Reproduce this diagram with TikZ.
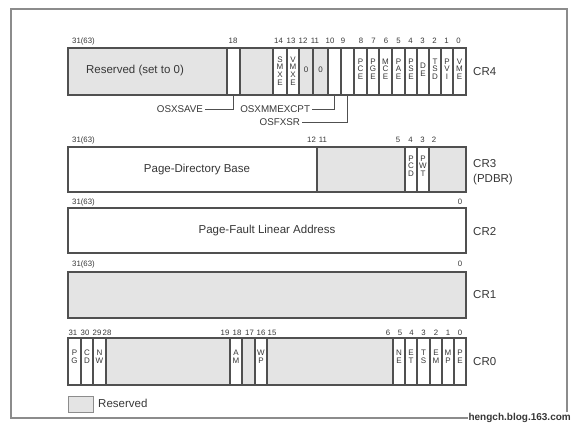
\documentclass[tikz,border=0pt]{standalone}
\usepackage{fontspec}
\setmainfont{Liberation Sans}
\definecolor{resv}{RGB}{228,228,228}
\definecolor{edge}{RGB}{80,80,80}
\definecolor{ink}{RGB}{55,55,55}
\definecolor{framec}{RGB}{140,140,140}
\newcommand{\regcell}[6]{%
  \draw[#6] (#2,#4) rectangle (#3,#5);
  \coordinate (#1) at ({(#2+#3)/2},#5);}
\begin{document}
\begin{tikzpicture}[x=1pt,y=-1pt,
  gcell/.style={draw=edge,line width=1.1pt,fill=resv},
  wcell/.style={draw=edge,line width=1.1pt,fill=white},
  bitno/.style={font=\fontsize{7.8}{8}\selectfont,text=ink,inner sep=0pt},
  letters/.style={font=\fontsize{8}{7.6}\selectfont,text=ink,align=center,inner sep=0pt},
  big/.style={font=\fontsize{11.5}{13}\selectfont,text=ink,inner sep=0pt},
  side/.style={font=\fontsize{11.5}{15}\selectfont,text=ink,anchor=west,align=left,inner sep=0pt},
  flag/.style={font=\fontsize{9.8}{11}\selectfont,text=ink,inner sep=0pt,outer sep=2pt,anchor=east},
  conn/.style={draw=edge,line width=0.9pt},
  framebox/.style={draw=framec,line width=1.1pt}]
\useasboundingbox (0,0) rectangle (577,427);
\draw[framebox] (11,9) rectangle (567,418);

% ---------- CR4 ----------
\regcell{c4r}{68}{227}{48}{95}{gcell}
\regcell{b18}{227}{240}{48}{95}{wcell}
\regcell{c4g}{240}{273}{48}{95}{gcell}
\regcell{b14}{273}{287}{48}{95}{wcell}
\regcell{b13}{287}{299}{48}{95}{wcell}
\regcell{b12}{299}{313}{48}{95}{gcell}
\regcell{b11}{313}{328}{48}{95}{gcell}
\regcell{b10}{328}{341}{48}{95}{wcell}
\regcell{b9}{341}{354}{48}{95}{wcell}
\regcell{b8}{354}{367}{48}{95}{wcell}
\regcell{b7}{367}{379}{48}{95}{wcell}
\regcell{b6}{379}{392}{48}{95}{wcell}
\regcell{b5}{392}{405}{48}{95}{wcell}
\regcell{b4}{405}{417}{48}{95}{wcell}
\regcell{b3}{417}{429}{48}{95}{wcell}
\regcell{b2}{429}{441}{48}{95}{wcell}
\regcell{b1}{441}{453}{48}{95}{wcell}
\regcell{b0}{453}{466}{48}{95}{wcell}
\node[big] (rsv4) at (135,71) {Reserved (set to 0)};
\node[letters] (smxe) at (280,71) {S\\M\\X\\E};
\node[letters] (vmxe) at (293,71) {V\\M\\X\\E};
\node[letters] (z12) at (306,70) {0};
\node[letters] (z11) at (320.5,70) {0};
\node[letters] (pce) at (360.5,69) {P\\C\\E};
\node[letters] (pge) at (373,69) {P\\G\\E};
\node[letters] (mce) at (385.5,69) {M\\C\\E};
\node[letters] (pae) at (398.5,69) {P\\A\\E};
\node[letters] (pse) at (411,69) {P\\S\\E};
\node[letters] (de) at (423,70) {D\\E};
\node[letters] (tsd) at (435,69) {T\\S\\D};
\node[letters] (pvi) at (447,69) {P\\V\\I};
\node[letters] (vme) at (459.5,69) {V\\M\\E};
\node[bitno] (n4a) at (83.5,41) {31(63)};
\foreach \n/\x in {18/233,14/278.5,13/291,12/303,11/315,10/330,9/343,8/361,7/373.5,6/386,5/398.5,4/410.5,3/422.5,2/434.5,1/446.5,0/458.5}
  \node[bitno] (n4-\n) at (\x,41) {\n};
\node[side] (cr4) at (473,72) {CR4};
\node[flag] (osxsave) at (205,109) {OSXSAVE};
\node[flag] (osxmm) at (312,109) {OSXMMEXCPT};
\node[flag] (osfxsr) at (302,122) {OSFXSR};
\draw[conn] (osxsave) -| (b18);
\draw[conn] (osxmm) -| (b10);
\draw[conn] (osfxsr) -| (b9);

% ---------- CR3 ----------
\regcell{c3a}{68}{317}{147}{192}{wcell}
\regcell{c3b}{317}{405}{147}{192}{gcell}
\regcell{c3c}{405}{417}{147}{192}{wcell}
\regcell{c3d}{417}{429}{147}{192}{wcell}
\regcell{c3e}{429}{466}{147}{192}{gcell}
\node[big] (pdb) at (197,170) {Page-Directory Base};
\node[letters] (pcd) at (411,166) {P\\C\\D};
\node[letters] (pwt) at (423,166) {P\\W\\T};
\node[bitno] (n3a) at (83.5,140) {31(63)};
\foreach \n/\x in {12/311.5,11/323,5/398,4/410.5,3/422.5,2/434}
  \node[bitno] (n3-\n) at (\x,140) {\n};
\node[side] (cr3) at (473,172.5) {CR3\\(PDBR)};

% ---------- CR2 ----------
\regcell{c2}{68}{466}{208}{253}{wcell}
\node[big] (pfla) at (267,231) {Page-Fault Linear Address};
\node[bitno] (n2a) at (83.5,202) {31(63)};
\node[bitno] (n2b) at (460,202) {0};
\node[side] (cr2) at (473,232) {CR2};

% ---------- CR1 ----------
\regcell{c1}{68}{466}{272}{318}{gcell}
\node[bitno] (n1a) at (83.5,264) {31(63)};
\node[bitno] (n1b) at (460,264) {0};
\node[side] (cr1) at (473,295) {CR1};

% ---------- CR0 ----------
\regcell{d31}{68}{81}{338}{385}{wcell}
\regcell{d30}{81}{93}{338}{385}{wcell}
\regcell{d29}{93}{106}{338}{385}{wcell}
\regcell{dg1}{106}{230}{338}{385}{gcell}
\regcell{d18}{230}{242}{338}{385}{wcell}
\regcell{d17}{242}{255}{338}{385}{gcell}
\regcell{d16}{255}{267}{338}{385}{wcell}
\regcell{dg2}{267}{393}{338}{385}{gcell}
\regcell{d5}{393}{405}{338}{385}{wcell}
\regcell{d4}{405}{417}{338}{385}{wcell}
\regcell{d3}{417}{430}{338}{385}{wcell}
\regcell{d2}{430}{442}{338}{385}{wcell}
\regcell{d1}{442}{454}{338}{385}{wcell}
\regcell{d0}{454}{466}{338}{385}{wcell}
\node[letters] (pg) at (74.5,357) {P\\G};
\node[letters] (cd) at (87,357) {C\\D};
\node[letters] (nw) at (99.5,357) {N\\W};
\node[letters] (am) at (236,357) {A\\M};
\node[letters] (wp) at (261,357) {W\\P};
\node[letters] (ne) at (399,357) {N\\E};
\node[letters] (et) at (411,357) {E\\T};
\node[letters] (ts) at (423.5,357) {T\\S};
\node[letters] (em) at (436,357) {E\\M};
\node[letters] (mp) at (448,357) {M\\P};
\node[letters] (pe) at (460,357) {P\\E};
\foreach \n/\x in {31/73,30/85,29/97,28/107,19/225,18/237,17/249.5,16/261,15/272,6/388,5/400,4/411.5,3/423.5,2/436,1/448,0/460}
  \node[bitno] (n0-\n) at (\x,333) {\n};
\node[side] (cr0) at (473,362) {CR0};

% ---------- legend ----------
\draw[draw=framec,line width=1pt,fill=resv] (68,396) rectangle (93,412);
\node[side] (reslbl) at (98,403) {Reserved};
\node[font=\bfseries\fontsize{10}{12}\selectfont,text=ink,fill=white,inner sep=1pt,anchor=east] (wm) at (572,418) {hengch.blog.163.com};
\end{tikzpicture}
\end{document}
